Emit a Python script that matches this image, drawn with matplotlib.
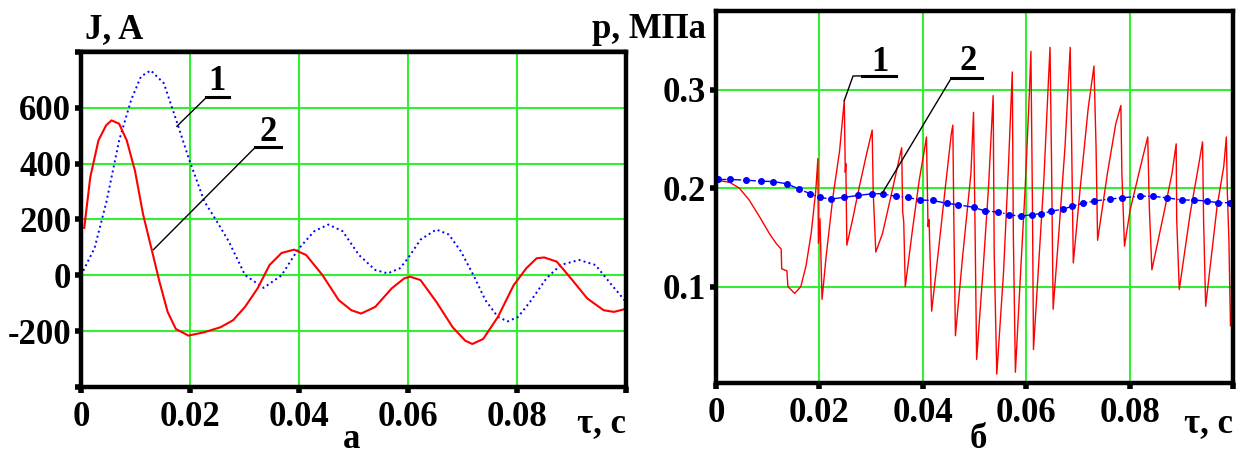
import matplotlib
matplotlib.use("Agg")
import matplotlib.pyplot as plt
import numpy as np

plt.rcParams['font.family'] = ['Liberation Serif', 'DejaVu Serif']
plt.rcParams['font.weight'] = 'bold'
plt.rcParams['axes.unicode_minus'] = False

GRID = '#33ee33'
FS = 25

# --- panel a: current J, A ---
t_j1 = [0.0, 0.0025, 0.0047, 0.007, 0.0092, 0.011, 0.0128, 0.0152, 0.0178, 0.0197,
        0.0226, 0.0249, 0.0271, 0.0301, 0.0335, 0.0368, 0.0398, 0.0428, 0.0454, 0.048,
        0.051, 0.054, 0.0563, 0.0585, 0.06, 0.0623, 0.0652, 0.0675, 0.0697, 0.072,
        0.0742, 0.0765, 0.0783, 0.0802, 0.0824, 0.0854, 0.088, 0.0914, 0.0944, 0.0974, 0.1]
j1 = [0, 98, 266, 483, 628, 712, 734, 688, 537, 423,
      266, 194, 122, 1, -45, 0, 92, 158, 182, 158,
      73, 19, 7, 25, 61, 128, 164, 146, 86, 1,
      -89, -149, -165, -149, -95, -11, 37, 55, 37, -35, -95]

t_j2 = [0.0, 0.0, np.nan, 0.0006, 0.0017, 0.0032, 0.0046, 0.0056, 0.007, 0.0084, 0.0099,
        0.0114, 0.0129, 0.0144, 0.0159, 0.0174, 0.0197, 0.0226, 0.0256, 0.0279, 0.0301,
        0.0324, 0.0346, 0.0368, 0.0391, 0.0413, 0.0443, 0.0473, 0.0496, 0.0514, 0.054,
        0.057, 0.0593, 0.0604, 0.0623, 0.0652, 0.0682, 0.0705, 0.0718, 0.0738, 0.0765,
        0.0794, 0.0817, 0.0836, 0.085, 0.0873, 0.0899, 0.0929, 0.0959, 0.0978, 0.1]
j2 = [0, 45, np.nan, 170, 351, 483, 537, 555, 543, 483, 375,
      218, 98, -23, -131, -192, -216, -204, -186, -161, -113,
      -47, 37, 80, 92, 73, 1, -89, -125, -137, -113,
      -47, -11, -5, -17, -95, -186, -234, -246, -228, -149,
      -35, 25, 61, 64, 49, -11, -83, -125, -131, -120]

# --- panel б: pressure p, MPa ---
t_p1 = [0.0, 0.0026, 0.0045, 0.0064, 0.0084, 0.0103, 0.0116, 0.0126, 0.0127, 0.0137,
        0.0139, 0.0152, 0.0164, 0.0174, 0.0184, 0.0193, 0.0197, 0.0198, 0.0201, 0.0205,
        0.0213, 0.0226, 0.0239, 0.0248, 0.0250, 0.0251, 0.0253, 0.0264, 0.0277, 0.029,
        0.0302, 0.0304, 0.0309, 0.0322, 0.0338, 0.0351, 0.0359, 0.0361, 0.0363, 0.0366,
        0.038, 0.0393, 0.0404, 0.0407, 0.041, 0.0412, 0.0417, 0.0429, 0.0445, 0.0455,
        0.0458, 0.046, 0.0463, 0.0477, 0.0493, 0.0498, 0.0501, 0.0504, 0.0517, 0.0527,
        0.0536, 0.0538, 0.0543, 0.0556, 0.0565, 0.0573, 0.0575, 0.0579, 0.0588, 0.0598,
        0.0606, 0.0609, 0.0612, 0.0614, 0.0623, 0.0634, 0.0642, 0.0646, 0.0649, 0.0652,
        0.0662, 0.0675, 0.0685, 0.0688, 0.0691, 0.0704, 0.072, 0.0731, 0.0735, 0.0738,
        0.0757, 0.0773, 0.0783, 0.0785, 0.079, 0.0801, 0.0821, 0.0835, 0.0838, 0.0843,
        0.0866, 0.0882, 0.089, 0.0891, 0.0896, 0.0917, 0.0933, 0.0941, 0.0943, 0.0947,
        0.0969, 0.0982, 0.0987, 0.0989, 0.0992, 0.0995, 0.1]
p1 = [0.208, 0.206, 0.2, 0.188, 0.171, 0.154, 0.144, 0.138, 0.118, 0.116,
      0.100, 0.093, 0.100, 0.121, 0.154, 0.198, 0.230, 0.144, 0.169, 0.087,
      0.131, 0.191, 0.238, 0.289, 0.216, 0.225, 0.142, 0.168, 0.201, 0.232,
      0.259, 0.195, 0.135, 0.154, 0.191, 0.222, 0.241, 0.176, 0.166, 0.100,
      0.158, 0.208, 0.242, 0.252, 0.161, 0.168, 0.075, 0.131, 0.208, 0.255,
      0.264, 0.164, 0.050, 0.131, 0.215, 0.277, 0.158, 0.026, 0.121, 0.201,
      0.294, 0.134, 0.011, 0.114, 0.215, 0.318, 0.154, 0.013, 0.104, 0.201,
      0.296, 0.339, 0.181, 0.036, 0.114, 0.208, 0.299, 0.343, 0.222, 0.077,
      0.147, 0.242, 0.343, 0.238, 0.124, 0.198, 0.282, 0.324, 0.242, 0.147,
      0.215, 0.265, 0.284, 0.215, 0.141, 0.178, 0.222, 0.252, 0.181, 0.117,
      0.174, 0.215, 0.245, 0.168, 0.097, 0.174, 0.222, 0.247, 0.168, 0.080,
      0.181, 0.222, 0.252, 0.195, 0.147, 0.060, 0.080]

t_p2 = [0.0003, 0.0027, 0.0057, 0.0086, 0.0111, 0.0137, 0.0161, 0.0182, 0.0201, 0.0222,
        0.0247, 0.0275, 0.0302, 0.0322, 0.0348, 0.0371, 0.0395, 0.0419, 0.0447, 0.0468,
        0.0498, 0.0520, 0.0546, 0.0567, 0.0589, 0.0612, 0.0628, 0.0648, 0.0671, 0.0689,
        0.0709, 0.0731, 0.0762, 0.0786, 0.0820, 0.0846, 0.0872, 0.0901, 0.0925, 0.0949,
        0.0971, 0.0995]
p2 = [0.2088, 0.2088, 0.2081, 0.2071, 0.2067, 0.2044, 0.1990, 0.1943, 0.1906, 0.1889,
      0.1906, 0.1926, 0.1943, 0.1943, 0.1916, 0.1906, 0.1879, 0.1875, 0.1845, 0.1832,
      0.1805, 0.1768, 0.1758, 0.1731, 0.1714, 0.1731, 0.1741, 0.1764, 0.1788, 0.1815,
      0.1845, 0.1869, 0.1889, 0.1902, 0.1919, 0.1916, 0.1902, 0.1879, 0.1879, 0.1869,
      0.1852, 0.1852]

x_ticks = [0, 0.02, 0.04, 0.06, 0.08, 0.1]
x_labels = ['0', '0.02', '0.04', '0.06', '0.08', '']
j_ticks = [-400, -200, 0, 200, 400, 600, 800]
j_labels = ['', '-200', '0', '200', '400', '600', '']
p_ticks = [0.1, 0.2, 0.3]
p_labels = ['0.1', '0.2', '0.3']

fig = plt.figure(figsize=(12.44, 4.54), dpi=100)
ax1 = fig.add_axes([0.0651, 0.1476, 0.4381, 0.7379])
ax2 = fig.add_axes([0.5756, 0.1564, 0.4156, 0.8194])


def style(ax):
    ax.grid(True, color=GRID, linewidth=1.5)
    ax.set_axisbelow(True)
    for s in ax.spines.values():
        s.set_linewidth(3.2)
        s.set_color('black')
    ax.tick_params(direction='out', length=4, width=4, labelsize=FS, pad=3)
    for lab in ax.get_xticklabels() + ax.get_yticklabels():
        lab.set_fontweight('bold')
    ax.tick_params(axis='x', pad=6)
    ax.text(1.0, -0.11, 'τ, c', transform=ax.transAxes, ha='right', va='center',
            fontsize=FS, fontweight='bold')


# panel a
ax1.plot(t_j1, j1, color='blue', linestyle=':', linewidth=1.4)
ax1.plot(t_j2, j2, color='red', linewidth=1.5)
ax1.set_xlim(0, 0.1)
ax1.set_ylim(-400, 800)
ax1.set_xticks(x_ticks, x_labels)
ax1.set_yticks(j_ticks, j_labels)
style(ax1)
ax1.plot([0, 0.1], [808, 808], color=GRID, linewidth=1.5, clip_on=False)

ax1.plot([0.0176, 0.0230, 0.0271], [534, 637, 637], color='black', linewidth=1)
ax1.plot([0.0230, 0.0271], [637, 637], color='black', linewidth=2.2)
ax1.text(0.0249, 694, '1', ha='center', va='center', fontsize=FS, fontweight='bold')
ax1.plot([0.0133, 0.0320], [92, 459], color='black', linewidth=1)
ax1.plot([0.0320, 0.0367], [459, 459], color='black', linewidth=2.2)
ax1.text(0.0343, 513, '2', ha='center', va='center', fontsize=FS, fontweight='bold')

# panel б
ax2.plot(t_p1, p1, color='red', linewidth=1.0)
ax2.plot(t_p2, p2, color='blue', linestyle='-.', linewidth=1.0,
         marker='o', markersize=4)
ax2.set_xlim(0, 0.1)
ax2.set_ylim(0.002, 0.380)
ax2.set_xticks(x_ticks, x_labels)
ax2.set_yticks(p_ticks, p_labels)
style(ax2)

ax2.plot([0.0248, 0.0265, 0.0282], [0.289, 0.314, 0.314], color='black', linewidth=1)
ax2.plot([0.0282, 0.0348], [0.314, 0.314], color='black', linewidth=2.2)
ax2.text(0.0316, 0.328, '1', ha='center', va='center', fontsize=FS, fontweight='bold')
ax2.plot([0.0322, 0.0455], [0.1953, 0.3118], color='black', linewidth=1)
ax2.plot([0.0455, 0.0514], [0.3118, 0.3118], color='black', linewidth=2.2)
ax2.text(0.0487, 0.329, '2', ha='center', va='center', fontsize=FS, fontweight='bold')

# axis titles and panel letters
fig.text(85 / 1244, 1 - 30 / 454, 'J, A', ha='left', va='center', fontsize=FS, fontweight='bold')
fig.text(706 / 1244, 1 - 30 / 454, 'p, МПа', ha='right', va='center', fontsize=FS, fontweight='bold')
fig.text(352 / 1244, 1 - 439 / 454, 'а', ha='center', va='center', fontsize=FS, fontweight='bold')
fig.text(978 / 1244, 1 - 439 / 454, 'б', ha='center', va='center', fontsize=FS, fontweight='bold')

fig.savefig('out.png', dpi=100)
